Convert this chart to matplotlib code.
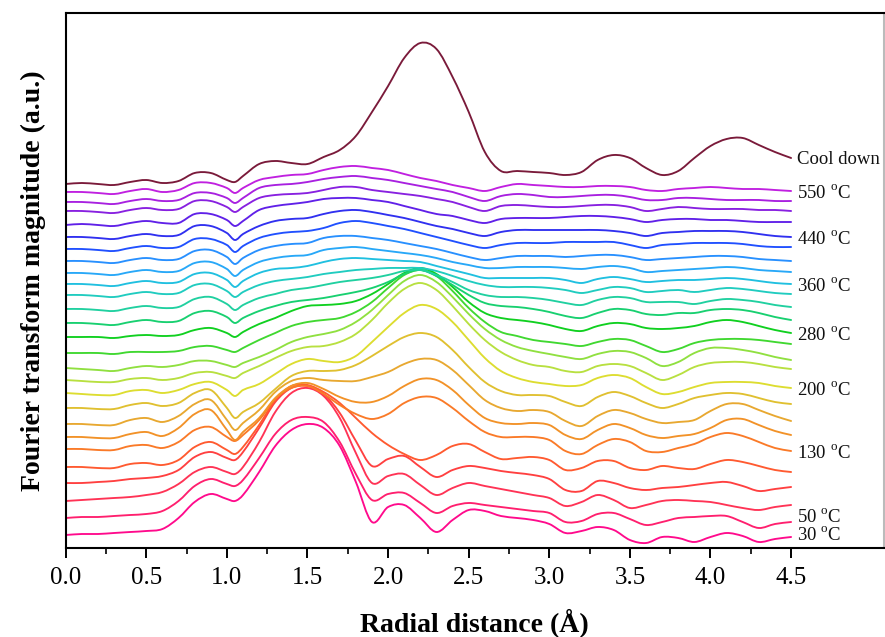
import numpy as np
import matplotlib
matplotlib.use("Agg")
import matplotlib.pyplot as plt
from matplotlib.path import Path
from matplotlib.patches import PathPatch

# Radial distance sampling (Å); an extra sample sits on the 1.05 Å notch
r = [0.0, 0.1, 0.2, 0.3, 0.4, 0.5, 0.6, 0.7, 0.8, 0.9, 1.0, 1.05, 1.1, 1.2, 1.3,
     1.4, 1.5, 1.6, 1.7, 1.8, 1.9, 2.0, 2.1, 2.2, 2.3, 2.4, 2.5, 2.6, 2.7, 2.8,
     2.9, 3.0, 3.1, 3.2, 3.3, 3.4, 3.5, 3.6, 3.7, 3.8, 3.9, 4.0, 4.1, 4.2, 4.3,
     4.4, 4.5]

# Stacked FT magnitude traces (depth units below the top of the frame)
cool_down = [184,183,184,185,182,180,183,181,173,173,180,182,176,164,161,163,164,157,150,136,112,86,58,43,49,77,112,152,171,171,172,173,175,172,160,155,158,168,175,171,158,146,139,138,145,152,158]
t25 = [192,192,193,194,191,189,192,190,183,183,188,193,188,180,177,175,174,170,167,166,168,170,174,178,181,185,188,191,187,184,185,186,187,187,186,186,187,190,191,189,188,187,188,189,189,190,191]
t24 = [202,202,203,204,201,199,201,200,193,193,198,203,198,188,185,184,182,179,177,176,178,180,183,186,189,192,197,201,196,194,195,197,197,196,195,195,197,200,200,198,198,199,200,200,200,201,201]
t23 = [211,211,212,213,210,208,210,209,201,201,207,212,207,198,195,194,193,190,187,187,190,192,194,196,199,202,207,211,206,205,206,207,207,206,205,205,207,211,209,207,208,209,209,209,210,210,211]
t22 = [225,224,225,226,223,221,223,223,214,214,220,226,221,210,206,204,202,199,198,198,200,202,206,210,214,216,220,223,219,218,218,218,217,216,216,217,219,222,220,219,219,220,220,221,222,222,222]
t21 = [237,237,238,239,236,234,236,235,226,226,233,240,234,226,221,219,218,214,211,210,212,215,218,222,226,229,233,236,232,230,230,230,230,230,230,231,233,236,233,232,231,231,231,232,234,236,237]
t20 = [249,249,250,251,248,246,248,247,239,239,245,252,246,238,234,232,231,228,223,221,223,226,229,233,237,241,245,248,245,243,243,243,242,242,242,242,245,248,245,244,243,243,243,244,246,247,247]
t19 = [261,261,262,263,260,258,260,259,251,250,257,264,258,250,246,244,243,238,236,236,238,240,243,246,249,253,257,260,258,256,256,256,257,256,255,255,257,260,259,258,257,256,256,257,259,260,261]
t18 = [273,273,274,275,272,270,272,271,263,262,269,276,270,262,258,256,255,250,248,247,249,251,253,255,258,262,265,268,268,267,267,267,268,269,267,266,268,272,271,270,269,268,267,268,270,271,272]
t17 = [284,284,285,286,283,281,283,282,274,273,280,287,281,273,269,268,266,262,259,258,259,260,261,262,266,270,274,278,278,278,278,278,280,283,279,277,279,282,281,280,280,279,278,279,281,283,284]
t16 = [295,295,296,297,294,292,294,293,285,284,291,297,292,285,281,279,277,274,272,270,269,268,268,268,271,276,281,285,287,287,287,288,290,293,290,287,288,292,291,290,292,290,288,289,291,293,294]
t15 = [309,309,310,311,308,306,308,307,299,297,304,310,305,298,294,290,288,285,282,280,278,275,271,270,275,282,290,295,297,297,298,300,303,305,300,297,298,302,302,302,304,301,299,300,302,305,307]
t14 = [323,323,324,325,322,320,322,321,313,311,317,323,318,311,306,302,300,298,295,292,288,282,274,270,276,285,295,303,306,307,309,312,316,318,313,309,310,314,315,313,313,310,309,310,313,317,320]
t13 = [337,337,337,338,336,335,336,335,330,328,333,337,332,324,318,311,306,305,304,301,294,284,273,268,274,287,302,313,318,320,322,325,329,331,326,323,324,328,329,328,326,322,320,322,326,330,333]
t12 = [353,353,353,354,352,352,352,351,347,346,350,352,348,340,333,326,322,320,318,312,302,288,275,270,276,291,308,322,332,336,340,342,344,346,342,339,340,346,352,349,343,340,339,339,340,342,344]
t11 = [368,369,370,371,368,366,367,365,361,361,365,367,363,357,350,342,337,334,330,322,310,295,281,275,282,297,314,329,340,347,351,354,357,359,354,351,352,358,366,362,353,348,348,350,353,357,360]
t10 = [380,381,382,382,379,378,380,378,373,372,376,378,373,366,358,351,347,346,342,334,320,303,289,283,290,306,324,340,352,360,365,367,371,372,366,364,366,373,380,375,367,363,362,362,364,367,369]
t09 = [393,394,395,395,391,390,393,390,384,382,390,396,390,384,374,364,359,361,362,356,342,327,313,305,309,322,340,358,371,378,382,384,386,385,378,375,378,387,394,392,387,383,382,382,383,386,388]
t08 = [408,408,409,409,405,403,406,403,393,390,408,418,412,403,389,376,371,371,370,365,356,346,337,333,337,350,367,382,391,395,395,396,402,406,397,392,396,403,408,404,398,395,393,394,398,402,404]
t07 = [424,424,425,425,420,418,422,416,404,400,420,430,423,410,392,381,378,380,381,381,377,372,364,359,360,370,385,400,408,411,410,412,421,426,416,410,413,419,423,422,420,411,404,404,410,416,421]
t06 = [437,437,438,438,434,432,436,428,414,410,430,440,432,418,398,386,383,389,397,402,402,396,386,379,380,390,405,418,423,424,423,425,435,439,430,424,428,435,438,436,434,428,420,419,425,431,435]
t05 = [449,449,450,450,446,445,448,442,430,427,437,441,435,420,399,388,386,394,405,414,419,414,403,397,398,408,421,432,437,437,437,440,451,454,445,439,442,451,452,448,444,437,433,436,442,448,451]
t04 = [467,467,468,468,464,463,465,460,447,442,450,454,447,425,400,386,385,392,403,418,433,445,454,460,455,446,444,452,459,458,457,460,470,468,461,461,468,470,466,468,469,464,460,462,466,470,472]
t03 = [483,483,482,481,479,478,476,470,457,452,458,460,452,428,402,388,386,394,413,441,466,459,456,467,477,470,466,468,471,473,475,479,490,491,481,483,488,490,488,487,485,483,482,486,491,489,487]
t02 = [501,500,499,498,497,495,492,484,472,467,472,474,467,442,412,393,388,396,418,453,483,476,474,485,495,488,483,486,489,492,495,498,506,502,495,500,508,505,501,500,501,502,505,508,510,507,505]
t01 = [518,517,517,516,515,514,511,501,486,479,484,486,480,458,434,420,417,422,442,474,500,494,493,503,513,506,503,505,507,509,511,513,522,521,514,513,519,525,522,518,517,516,516,522,528,524,522]
t00 = [535,534,534,533,532,531,529,518,502,494,499,501,495,472,446,430,424,428,446,482,522,507,505,518,532,520,510,511,516,518,520,524,533,531,527,530,540,543,537,538,542,537,533,536,542,539,537]

traces = [t00, t01, t02, t03, t04, t05, t06, t07, t08, t09, t10, t11, t12,
          t13, t14, t15, t16, t17, t18, t19, t20, t21, t22, t23, t24, t25, cool_down]
labels = ["30 $^{\\mathrm{o}}$C", "50 $^{\\mathrm{o}}$C", None, None, None,
          "130 $^{\\mathrm{o}}$C", None, None, None, "200 $^{\\mathrm{o}}$C",
          None, None, None, "280 $^{\\mathrm{o}}$C", None, None, None,
          "360 $^{\\mathrm{o}}$C", None, None, None, "440 $^{\\mathrm{o}}$C",
          None, None, None, "550 $^{\\mathrm{o}}$C", "Cool down"]
label_dy = {0: 2, 1: 5}  # vertical nudges (pixels, upward) for the crowded bottom labels

colors = ["#FF0A8C", "#FF1F6E", "#FF3355", "#FF4040", "#FF5A30", "#FA7A28",
          "#F29228", "#E8A830", "#E0C030", "#DDDD30", "#B8E040", "#90E040",
          "#40D830", "#10D020", "#18D070", "#20D0A0", "#20CCC0", "#20C0E0",
          "#28A8F8", "#2890FF", "#2050FF", "#3030F0", "#6020E8", "#8820E0",
          "#A820E0", "#C020E0", "#7A1A3A"]

plt.rcParams['font.family'] = ['Liberation Serif', 'DejaVu Serif']
plt.rcParams['mathtext.fontset'] = 'custom'
plt.rcParams['mathtext.rm'] = 'Liberation Serif'


def spline_path(x, y):
    """Smooth (cubic Hermite) connection through the data points, drawn as Bezier curves."""
    x = np.asarray(x, float)
    y = np.asarray(y, float)
    n = len(x)
    m = np.empty(n)
    m[0] = (y[1] - y[0]) / (x[1] - x[0])
    m[-1] = (y[-1] - y[-2]) / (x[-1] - x[-2])
    m[1:-1] = (y[2:] - y[:-2]) / (x[2:] - x[:-2])
    verts = [(x[0], y[0])]
    codes = [Path.MOVETO]
    for i in range(n - 1):
        h = x[i + 1] - x[i]
        verts += [(x[i] + h / 3, y[i] + m[i] * h / 3),
                  (x[i + 1] - h / 3, y[i + 1] - m[i + 1] * h / 3),
                  (x[i + 1], y[i + 1])]
        codes += [Path.CURVE4] * 3
    return Path(verts, codes)


fig = plt.figure(figsize=(8.85, 6.37), dpi=100)
ax = fig.add_axes([65.7/885, 1 - 548/637, (884 - 65.7)/885, (548 - 13)/637])

for i, (tr, c) in enumerate(zip(traces, colors)):
    ax.add_patch(PathPatch(spline_path(r, tr), facecolor='none', edgecolor=c,
                           lw=1.35, capstyle='round', joinstyle='round',
                           zorder=2 + i * 0.01))
    if labels[i]:
        dy = label_dy.get(i, -2)
        ax.annotate(labels[i], xy=(r[-1], tr[-1]), xytext=(4, dy * 0.72),
                    textcoords='offset points', ha='left', va='center',
                    fontsize=13.5, color='#111111')

ax.set_xlim(0, (884 - 65.7) / 161.2)
ax.set_ylim(548, 13)
ax.set_yticks([])
ax.set_xticks(np.arange(0, 4.51, 0.5))
ax.set_xticklabels([f"{v:.1f}" for v in np.arange(0, 4.51, 0.5)])
ax.set_xticks(np.arange(0.25, 4.3, 0.5), minor=True)
ax.tick_params(axis='x', which='major', direction='out', length=7.5, width=1.4,
               labelsize=18, pad=6)
ax.tick_params(axis='x', which='minor', direction='out', length=4, width=1.2)
for s in ax.spines.values():
    s.set_linewidth(1.5)
ax.spines['right'].set_color('#bbbbbb')

ax.set_xlabel("Radial distance (Å)", fontsize=20, fontweight='bold', labelpad=14)
ax.set_ylabel("Fourier transform magnitude (a.u.)", fontsize=20, fontweight='bold', labelpad=14)

fig.savefig("out.png", dpi=100)
